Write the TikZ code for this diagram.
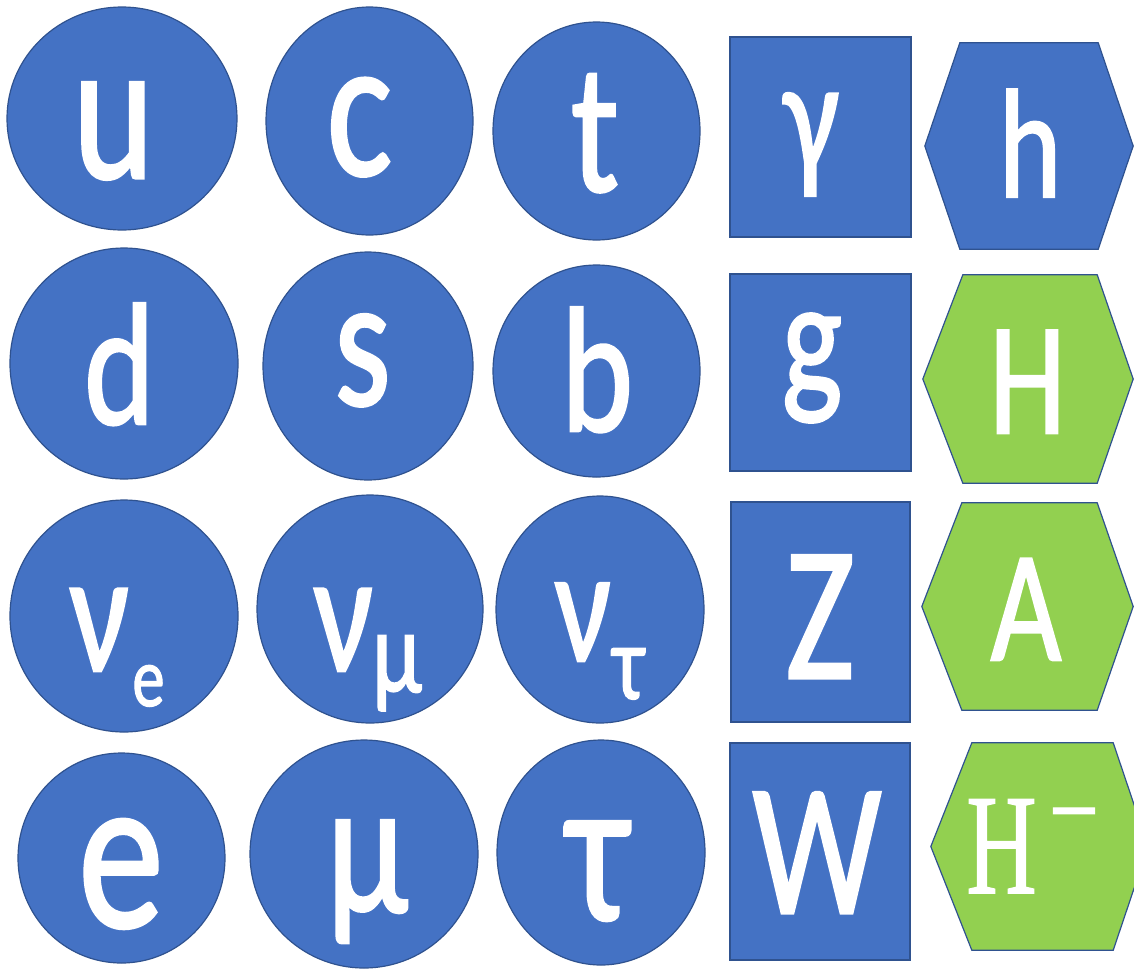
\documentclass[tikz,border=0pt]{standalone}
\usepackage{fontspec}
\usepackage{graphicx}
\setmainfont{Carlito}[FakeBold=1.6]
\newfontfamily\serifH{Liberation Serif}[FakeBold=1.2]
\usetikzlibrary{shapes.geometric}
\definecolor{pblue}{HTML}{4472C4}
\definecolor{pedge}{HTML}{2F528F}
\definecolor{pgreen}{HTML}{92D050}
\newcommand{\fsz}[1]{\fontsize{#1}{#1}\selectfont}
\newcommand{\sx}[1]{\scalebox{0.77}[1]{#1}}
\newcommand{\sxh}[1]{\scalebox{0.68}[1]{#1}}
\tikzset{
  ptc/.style={ellipse, draw=pedge, fill=pblue, line width=1.2pt, inner sep=0pt},
  ptsq/.style={rectangle, draw=pedge, fill=pblue, line width=1.2pt, inner sep=0pt},
  hexbox/.style={rectangle, inner sep=0pt},
  hexblue/.style={draw=pedge, fill=pblue, line width=1.2pt, line join=miter},
  hexgreen/.style={draw=pedge, fill=pgreen, line width=1.2pt, line join=miter},
  lbl/.style={anchor=base, inner sep=0pt, outer sep=0pt, text=white}
}
\begin{document}
\begin{tikzpicture}[x={(1pt,0)}, y={(0,-1pt)}]
\useasboundingbox (0,0) rectangle (1134,972);
% ---- fermion circles ----
\node[ptc, minimum width=230pt, minimum height=223pt] (u) at (122,118.5) {};
\node[ptc, minimum width=207pt, minimum height=228pt] (c) at (369.5,121) {};
\node[ptc, minimum width=207pt, minimum height=218pt] (t) at (596.5,131) {};
\node[ptc, minimum width=228pt, minimum height=231pt] (d) at (124,363.5) {};
\node[ptc, minimum width=210pt, minimum height=228pt] (s) at (368,366) {};
\node[ptc, minimum width=207pt, minimum height=212pt] (b) at (596.5,371) {};
\node[ptc, minimum width=228pt, minimum height=232pt] (ne) at (124,616) {};
\node[ptc, minimum width=226pt, minimum height=228pt] (nm) at (370,609) {};
\node[ptc, minimum width=208pt, minimum height=227pt] (nt) at (600,609.5) {};
\node[ptc, minimum width=207pt, minimum height=210pt] (e) at (121.5,858) {};
\node[ptc, minimum width=228pt, minimum height=228pt] (mu) at (364,854) {};
\node[ptc, minimum width=208pt, minimum height=225pt] (tau) at (601,852.5) {};
% ---- gauge boson squares ----
\node[ptsq, minimum width=181pt, minimum height=200pt] (gam) at (820.5,137) {};
\node[ptsq, minimum width=181pt, minimum height=197pt] (g) at (820.5,372.5) {};
\node[ptsq, minimum width=179pt, minimum height=220pt] (Z) at (820.5,612) {};
\node[ptsq, minimum width=180pt, minimum height=217pt] (W) at (820,851.5) {};
% ---- Higgs hexagons ----
\node[hexbox, minimum width=208pt, minimum height=206pt] (hh) at (1029,146) {};
\node[hexbox, minimum width=210pt, minimum height=208pt] (HH) at (1028,379) {};
\node[hexbox, minimum width=211pt, minimum height=207pt] (AA) at (1027.5,606.5) {};
\node[hexbox, minimum width=217pt, minimum height=207pt] (Hm) at (1039.5,846.5) {};
\path[hexblue] (hh.west) -- ([xshift=35pt]hh.north west) -- ([xshift=-35pt]hh.north east) -- (hh.east) -- ([xshift=-35pt]hh.south east) -- ([xshift=35pt]hh.south west) -- cycle;
\path[hexgreen] (HH.west) -- ([xshift=40pt]HH.north west) -- ([xshift=-36pt]HH.north east) -- (HH.east) -- ([xshift=-36pt]HH.south east) -- ([xshift=40pt]HH.south west) -- cycle;
\path[hexgreen] (AA.west) -- ([xshift=40pt]AA.north west) -- ([xshift=-36pt]AA.north east) -- (AA.east) -- ([xshift=-36pt]AA.south east) -- ([xshift=40pt]AA.south west) -- cycle;
\path[hexgreen] (Hm.west) -- ([xshift=41pt]Hm.north west) -- ([xshift=-35pt]Hm.north east) -- (Hm.east) -- ([xshift=-35pt]Hm.south east) -- ([xshift=41pt]Hm.south west) -- cycle;
% ---- labels ----
\node[lbl, font=\fsz{200}] (lu) at (113.5,178) {\sx{u}};
\node[lbl, font=\fsz{200}] (lc) at (359.5,175) {\sx{c}};
\node[lbl, font=\fsz{185}] (lt) at (595,191) {\sx{t}};
\node[lbl, font=\fsz{174}] (ld) at (119.5,424) {\sx{d}};
\node[lbl, font=\fsz{187}] (ls) at (362.5,405) {\sx{s}};
\node[lbl, font=\fsz{178}] (lb) at (597,431) {\sx{b}};
\node[lbl, font=\fsz{172}] (lne) at (99.5,671) {\sx{ν}};
\node[lbl, font=\fsz{84}] (lnes) at (148.5,706) {\sx{e}};
\node[lbl, font=\fsz{172}] (lnm) at (343.5,671) {\sx{ν}};
\node[lbl, font=\fsz{118}] (lnms) at (397,692) {\sx{μ}};
\node[lbl, font=\fsz{163}] (lnt) at (583,661) {\sx{ν}};
\node[lbl, font=\fsz{107}] (lnts) at (628.5,699) {\sx{τ}};
\node[lbl, font=\fsz{222}] (le) at (121,927) {\sx{e}};
\node[lbl, font=\fsz{192}] (lmu) at (367.5,912) {\sx{μ}};
\node[lbl, font=\fsz{208}] (ltau) at (598,920) {\sx{τ}};
\node[lbl, font=\fsz{160}] (lgam) at (811.5,170) {\sx{γ}};
\node[lbl, font=\fsz{166}] (lg) at (812,394) {\sx{g}};
\node[lbl, font=\fsz{191}] (lZ) at (820,678) {\sx{Z}};
\node[lbl, font=\fsz{188}] (lW) at (817,913) {\sx{W}};
\node[lbl, font=\fsz{155}] (lh) at (1030,197) {\sx{h}};
\node[lbl, font=\fsz{160}] (lH) at (1027.5,433) {\sx{H}};
\node[lbl, font=\fsz{158}] (lA) at (1026,660) {\sx{A}};
\node[lbl, font=\serifH\fsz{143}] (lHm) at (1001.5,893) {\sxh{H}};
\node[lbl, font=\serifH\fsz{115}] (lHms) at (1074,849) {\sx{−}};
\end{tikzpicture}
\end{document}
